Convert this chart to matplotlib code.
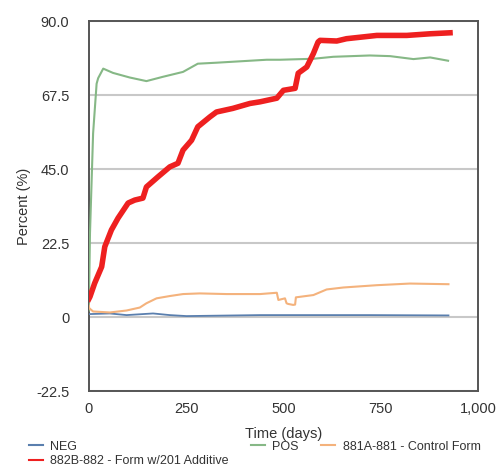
import matplotlib
matplotlib.use("Agg")
import matplotlib.pyplot as plt

plt.rcParams['font.family'] = ['Liberation Sans', 'DejaVu Sans']

# --- data ---
neg_days = [0, 54, 97, 165, 208, 251, 440, 720, 924]
neg_vals = [0.9, 1.1, 0.6, 1.1, 0.6, 0.3, 0.6, 0.6, 0.5]

pos_days = [0, 3, 11, 20, 24, 37, 62, 105, 148, 190, 242, 280, 328, 457,
            491, 577, 628, 722, 774, 834, 877, 923]
pos_vals = [2.0, 25.5, 55.9, 71.0, 72.7, 75.6, 74.3, 72.9, 71.8, 73.1, 74.6,
            77.1, 77.4, 78.3, 78.3, 78.6, 79.2, 79.6, 79.4, 78.5, 79.0, 78.0]

ctrl_days = [0, 1, 11, 54, 97, 131, 148, 174, 208, 242, 285, 354, 440, 483,
             487, 504, 508, 512, 525, 530, 532, 577, 611, 654, 740, 825, 924]
ctrl_vals = [3.5, 2.7, 1.7, 1.4, 2.0, 2.9, 4.2, 5.7, 6.4, 7.0, 7.2, 7.0, 7.0,
             7.4, 5.2, 5.7, 4.2, 4.0, 3.7, 3.8, 6.0, 6.7, 8.4, 9.0, 9.7, 10.2, 10.0]

add_days = [0, 3, 15, 33, 41, 58, 75, 101, 118, 139, 148, 178, 208, 229, 242,
            264, 280, 311, 328, 370, 414, 440, 483, 500, 530, 538, 560, 577,
            589, 594, 637, 662, 740, 817, 877, 928]
add_vals = [5.5, 6.2, 10.3, 15.3, 21.4, 26.5, 30.1, 34.7, 35.6, 36.2, 39.6,
            42.7, 45.7, 46.8, 50.8, 53.8, 57.9, 60.9, 62.4, 63.5, 65.0, 65.5,
            66.6, 69.0, 69.6, 74.2, 76.1, 80.2, 83.7, 84.2, 84.0, 84.7, 85.7,
            85.7, 86.2, 86.5]

yticks = [-22.5, 0, 22.5, 45.0, 67.5, 90.0]
ytick_labels = ["-22.5", "0", "22.5", "45.0", "67.5", "90.0"]
xticks = [0, 250, 500, 750, 1000]
xtick_labels = ["0", "250", "500", "750", "1,000"]

txt = '#333333'

fig = plt.figure(figsize=(4.99, 4.68), dpi=100)
ax = fig.add_axes([0.178, 0.1645, 0.78, 0.79])

ax.plot(neg_days, neg_vals, color='#5a7fae', lw=1.3, label='NEG', zorder=3)
ax.plot(add_days, add_vals, color='#ee2020', lw=4, label='882B-882 - Form w/201 Additive', zorder=4)
ax.plot(pos_days, pos_vals, color='#86b886', lw=1.5, label='POS', zorder=3)
ax.plot(ctrl_days, ctrl_vals, color='#f4b27c', lw=1.5, label='881A-881 - Control Form', zorder=3)

ax.set_xlim(0, 1000)
ax.set_ylim(-22.5, 90)
ax.set_yticks(yticks)
ax.set_yticklabels(ytick_labels)
ax.set_xticks(xticks)
ax.set_xticklabels(xtick_labels)
ax.tick_params(length=0, labelsize=10.5, colors=txt)
ax.tick_params(axis='y', pad=14)
ax.tick_params(axis='x', pad=8)
ax.yaxis.grid(True, color='#c8c8c8', lw=1.5)
ax.set_axisbelow(True)
for s in ax.spines.values():
    s.set_color('#555555')
    s.set_linewidth(1.4)

ax.set_xlabel('Time (days)', fontsize=10.5, color=txt, labelpad=8)
ax.set_ylabel('Percent (%)', fontsize=10.5, color=txt, labelpad=4)

leg = fig.legend(loc='upper left', bbox_to_anchor=(0.058, 0.058), ncol=3,
                 frameon=False, fontsize=9, handlelength=1.1, handletextpad=0.6,
                 columnspacing=1.8, borderaxespad=0, borderpad=0, labelspacing=0.2,
                 labelcolor=txt)
for h in leg.legend_handles:
    h.set_linewidth(1.5)

fig.savefig('out.png', dpi=100)
